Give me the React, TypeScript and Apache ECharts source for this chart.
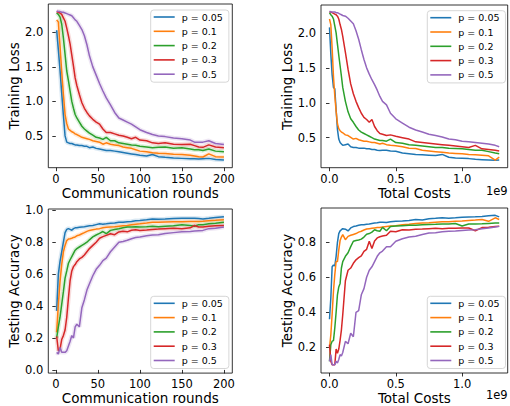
import React, { useEffect, useRef } from "react";
import * as echarts from "echarts";

const NAMES = ["p = 0.05", "p = 0.1", "p = 0.2", "p = 0.3", "p = 0.5"];
const COLORS = ["#1f77b4", "#ff7f0e", "#2ca02c", "#d62728", "#9467bd"];

const ROUNDS = [1, 3, 5, 7, 9, 11, 13, 15, 17, 19, 21, 23, 25, 28, 31, 34, 37, 40, 44, 48, 52, 56, 60, 65, 70, 75, 80, 85, 90, 95, 100, 108, 115, 122, 130, 140, 150, 160, 165, 170, 175, 182, 190, 200];

const LOSS_R_005 = [2.03, 1.75, 1.45, 1.12, 0.8, 0.5, 0.41, 0.4, 0.39, 0.39, 0.38, 0.37, 0.37, 0.36, 0.36, 0.35, 0.35, 0.33, 0.34, 0.32, 0.31, 0.3, 0.29, 0.29, 0.28, 0.27, 0.26, 0.25, 0.24, 0.23, 0.22, 0.21, 0.23, 0.2, 0.19, 0.18, 0.175, 0.17, 0.17, 0.165, 0.17, 0.175, 0.16, 0.15];
const LOSS_R_01 = [2.18, 2.15, 1.8, 1.43, 1.1, 0.81, 0.68, 0.6, 0.58, 0.56, 0.55, 0.53, 0.52, 0.5, 0.48, 0.47, 0.46, 0.45, 0.43, 0.42, 0.41, 0.38, 0.4, 0.38, 0.37, 0.36, 0.34, 0.33, 0.32, 0.3, 0.28, 0.27, 0.255, 0.25, 0.245, 0.235, 0.23, 0.22, 0.21, 0.2, 0.195, 0.24, 0.2, 0.195];
const LOSS_R_02 = [2.28, 2.26, 2.22, 2.12, 1.92, 1.68, 1.44, 1.3, 1.15, 1.0, 0.9, 0.81, 0.76, 0.7, 0.64, 0.6, 0.57, 0.54, 0.51, 0.48, 0.47, 0.45, 0.48, 0.43, 0.43, 0.4, 0.39, 0.38, 0.37, 0.365, 0.35, 0.34, 0.33, 0.335, 0.34, 0.32, 0.33, 0.31, 0.3, 0.3, 0.29, 0.31, 0.28, 0.27];
const LOSS_R_03 = [2.3, 2.29, 2.28, 2.26, 2.21, 2.16, 2.06, 1.95, 1.83, 1.67, 1.51, 1.34, 1.23, 1.1, 0.98, 0.9, 0.84, 0.79, 0.74, 0.7, 0.67, 0.6, 0.55, 0.55, 0.53, 0.51, 0.5, 0.48, 0.46, 0.48, 0.44, 0.43, 0.4, 0.39, 0.4, 0.38, 0.375, 0.38, 0.36, 0.34, 0.335, 0.37, 0.34, 0.33];
const LOSS_R_05 = [2.31, 2.3, 2.3, 2.29, 2.29, 2.28, 2.27, 2.26, 2.25, 2.24, 2.21, 2.18, 2.16, 2.1, 2.04, 1.95, 1.82, 1.66, 1.5, 1.38, 1.26, 1.15, 1.05, 0.95, 0.84, 0.76, 0.73, 0.7, 0.67, 0.63, 0.59, 0.55, 0.52, 0.5, 0.49, 0.47, 0.46, 0.44, 0.41, 0.41, 0.41, 0.43, 0.39, 0.375];

const ACC_R_005 = [0.37, 0.6, 0.68, 0.74, 0.8, 0.86, 0.88, 0.885, 0.88, 0.875, 0.885, 0.89, 0.89, 0.893, 0.895, 0.897, 0.9, 0.903, 0.905, 0.91, 0.915, 0.913, 0.915, 0.918, 0.92, 0.925, 0.925, 0.928, 0.93, 0.935, 0.936, 0.94, 0.946, 0.944, 0.945, 0.948, 0.95, 0.95, 0.95, 0.948, 0.946, 0.95, 0.955, 0.96];
const ACC_R_01 = [0.235, 0.41, 0.555, 0.66, 0.74, 0.78, 0.81, 0.82, 0.822, 0.825, 0.83, 0.833, 0.84, 0.845, 0.853, 0.86, 0.868, 0.874, 0.878, 0.882, 0.885, 0.89, 0.893, 0.895, 0.897, 0.9, 0.903, 0.905, 0.91, 0.913, 0.915, 0.92, 0.925, 0.925, 0.927, 0.928, 0.928, 0.93, 0.93, 0.93, 0.932, 0.935, 0.937, 0.94];
const ACC_R_02 = [0.2, 0.27, 0.33, 0.41, 0.49, 0.575, 0.62, 0.668, 0.69, 0.71, 0.73, 0.75, 0.76, 0.77, 0.78, 0.79, 0.8, 0.815, 0.833, 0.845, 0.855, 0.867, 0.853, 0.874, 0.88, 0.884, 0.89, 0.895, 0.895, 0.897, 0.895, 0.897, 0.9, 0.897, 0.9, 0.903, 0.909, 0.905, 0.9, 0.91, 0.91, 0.915, 0.918, 0.925];
const ACC_R_03 = [0.21, 0.12, 0.13, 0.19, 0.215, 0.25, 0.33, 0.45, 0.56, 0.62, 0.647, 0.66, 0.678, 0.695, 0.705, 0.72, 0.74, 0.76, 0.78, 0.8, 0.825, 0.835, 0.843, 0.853, 0.847, 0.864, 0.868, 0.865, 0.875, 0.878, 0.874, 0.877, 0.88, 0.882, 0.885, 0.888, 0.885, 0.89, 0.905, 0.895, 0.895, 0.9, 0.903, 0.905];
const ACC_R_05 = [0.11, 0.1, 0.14, 0.11, 0.11, 0.11, 0.12, 0.15, 0.18, 0.215, 0.2, 0.27, 0.286, 0.27, 0.39, 0.44, 0.5, 0.54, 0.59, 0.63, 0.655, 0.685, 0.7, 0.74, 0.77, 0.8, 0.805, 0.812, 0.822, 0.83, 0.833, 0.84, 0.845, 0.847, 0.855, 0.86, 0.865, 0.867, 0.87, 0.872, 0.874, 0.885, 0.888, 0.895];

// total costs in units of 1e9
const COSTS = [0, 0.01, 0.02, 0.03, 0.04, 0.05, 0.06, 0.07, 0.08, 0.09, 0.1, 0.12, 0.14, 0.16, 0.18, 0.2, 0.22, 0.24, 0.26, 0.28, 0.3, 0.32, 0.34, 0.36, 0.38, 0.4, 0.43, 0.46, 0.5, 0.55, 0.6, 0.65, 0.7, 0.75, 0.8, 0.85, 0.9, 0.95, 1.0, 1.05, 1.1, 1.15, 1.2, 1.25, 1.28];

const LOSS_C_005 = [2.08, 1.7, 1.4, 1.22, 1.2, 0.9, 0.62, 0.48, 0.43, 0.41, 0.39, 0.4, 0.41, 0.37, 0.36, 0.36, 0.35, 0.35, 0.35, 0.34, 0.34, 0.33, 0.33, 0.32, 0.315, 0.32, 0.32, 0.31, 0.305, 0.28, 0.27, 0.26, 0.255, 0.25, 0.245, 0.26, 0.22, 0.21, 0.205, 0.2, 0.19, 0.185, 0.18, 0.175, 0.18];
const LOSS_C_01 = [2.2, 2.12, 1.78, 1.38, 1.1, 0.88, 0.7, 0.63, 0.6, 0.58, 0.57, 0.54, 0.53, 0.505, 0.48, 0.49, 0.47, 0.46, 0.45, 0.45, 0.44, 0.43, 0.43, 0.42, 0.41, 0.42, 0.4, 0.39, 0.385, 0.37, 0.35, 0.345, 0.32, 0.31, 0.3, 0.29, 0.28, 0.275, 0.27, 0.26, 0.255, 0.25, 0.24, 0.18, 0.22];
const LOSS_C_02 = [2.29, 2.26, 2.24, 2.2, 2.1, 2.0, 1.84, 1.68, 1.53, 1.38, 1.22, 1.02, 0.87, 0.77, 0.72, 0.66, 0.61, 0.58, 0.56, 0.54, 0.52, 0.5, 0.48, 0.47, 0.46, 0.46, 0.45, 0.48, 0.43, 0.42, 0.4, 0.39, 0.38, 0.37, 0.36, 0.36, 0.35, 0.345, 0.34, 0.33, 0.32, 0.32, 0.3, 0.28, 0.27];
const LOSS_C_03 = [2.3, 2.3, 2.29, 2.28, 2.27, 2.26, 2.24, 2.2, 2.12, 2.05, 1.95, 1.72, 1.48, 1.27, 1.13, 1.02, 0.93, 0.85, 0.79, 0.76, 0.72, 0.76, 0.66, 0.6, 0.56, 0.55, 0.53, 0.54, 0.52, 0.5, 0.48, 0.44, 0.43, 0.42, 0.41, 0.4, 0.39, 0.38, 0.37, 0.36, 0.39, 0.34, 0.33, 0.32, 0.31];
const LOSS_C_05 = [2.31, 2.3, 2.3, 2.3, 2.3, 2.29, 2.29, 2.28, 2.27, 2.26, 2.25, 2.24, 2.21, 2.17, 2.13, 2.03, 1.91, 1.76, 1.62, 1.5, 1.41, 1.33, 1.26, 1.18, 1.09, 1.02, 0.97, 0.85, 0.77, 0.71, 0.65, 0.61, 0.58, 0.55, 0.53, 0.51, 0.48, 0.47, 0.45, 0.44, 0.43, 0.42, 0.41, 0.39, 0.37];

const ACC_C_005 = [0.36, 0.48, 0.66, 0.67, 0.665, 0.72, 0.8, 0.85, 0.865, 0.872, 0.878, 0.875, 0.865, 0.882, 0.89, 0.893, 0.897, 0.9, 0.9, 0.903, 0.905, 0.908, 0.91, 0.912, 0.915, 0.915, 0.913, 0.918, 0.92, 0.922, 0.925, 0.93, 0.928, 0.935, 0.937, 0.94, 0.938, 0.94, 0.943, 0.945, 0.946, 0.948, 0.952, 0.954, 0.945];
const ACC_C_01 = [0.196, 0.27, 0.39, 0.52, 0.615, 0.69, 0.69, 0.755, 0.81, 0.83, 0.844, 0.815, 0.834, 0.84, 0.845, 0.85, 0.858, 0.863, 0.87, 0.876, 0.878, 0.88, 0.882, 0.884, 0.885, 0.887, 0.89, 0.893, 0.895, 0.9, 0.903, 0.908, 0.91, 0.912, 0.915, 0.918, 0.918, 0.92, 0.922, 0.925, 0.927, 0.93, 0.92, 0.94, 0.93];
const ACC_C_02 = [0.12, 0.215, 0.235, 0.238, 0.31, 0.4, 0.5, 0.545, 0.565, 0.653, 0.69, 0.72, 0.74, 0.775, 0.806, 0.81, 0.813, 0.818, 0.83, 0.846, 0.85, 0.858, 0.872, 0.866, 0.863, 0.885, 0.866, 0.89, 0.893, 0.895, 0.897, 0.898, 0.9, 0.902, 0.903, 0.905, 0.905, 0.907, 0.893, 0.905, 0.905, 0.906, 0.908, 0.91, 0.91];
const ACC_C_03 = [0.215, 0.12, 0.1, 0.1, 0.1, 0.19, 0.165, 0.19, 0.24, 0.3, 0.386, 0.58, 0.64, 0.653, 0.68, 0.7, 0.712, 0.722, 0.748, 0.76, 0.806, 0.765, 0.808, 0.825, 0.832, 0.836, 0.84, 0.863, 0.86, 0.872, 0.87, 0.875, 0.876, 0.878, 0.88, 0.878, 0.88, 0.88, 0.882, 0.882, 0.866, 0.884, 0.886, 0.89, 0.891];
const ACC_C_05 = [0.12, 0.158, 0.1, 0.1, 0.1, 0.12, 0.11, 0.13, 0.158, 0.15, 0.17, 0.234, 0.22, 0.28, 0.26, 0.4, 0.41, 0.5, 0.535, 0.6, 0.64, 0.66, 0.69, 0.72, 0.74, 0.75, 0.775, 0.775, 0.806, 0.82, 0.83, 0.835, 0.845, 0.853, 0.855, 0.86, 0.863, 0.865, 0.868, 0.87, 0.872, 0.878, 0.882, 0.888, 0.891];

const ROUND_TICKS = [0, 50, 100, 150, 200];
const COST_TICKS = [0, 0.5, 1.0];
const LOSS_TICKS = [0.5, 1.0, 1.5, 2.0];
const ACC_TICKS_L = [0, 0.2, 0.4, 0.6, 0.8, 1.0];
const ACC_TICKS_R = [0.2, 0.4, 0.6, 0.8];

const FONT = "DejaVu Sans";

const PANELS = [
  { grid: { left: 48.3, top: 4, width: 184, height: 163.7 }, xs: ROUNDS, ys: [LOSS_R_005, LOSS_R_01, LOSS_R_02, LOSS_R_03, LOSS_R_05], band: true,
    x: { min: -8.95, max: 209.95, ticks: ROUND_TICKS, name: "Communication rounds", dec: 0 }, y: { min: 0.04, max: 2.41, ticks: LOSS_TICKS, name: "Training Loss" }, legend: { left: 150.7, top: 10 } },
  { grid: { left: 321, top: 5, width: 186.7, height: 162.7 }, xs: COSTS, ys: [LOSS_C_005, LOSS_C_01, LOSS_C_02, LOSS_C_03, LOSS_C_05], band: false,
    x: { min: -0.064, max: 1.344, ticks: COST_TICKS, name: "Total Costs", dec: 1 }, y: { min: 0.07, max: 2.4, ticks: LOSS_TICKS, name: "Training Loss" }, legend: { left: 427.3, top: 10.7 } },
  { grid: { left: 48.3, top: 209, width: 184, height: 166.3 }, xs: ROUNDS, ys: [ACC_R_005, ACC_R_01, ACC_R_02, ACC_R_03, ACC_R_05], band: true,
    x: { min: -8.95, max: 209.95, ticks: ROUND_TICKS, name: "Communication rounds", dec: 0 }, y: { min: -0.02, max: 1.008, ticks: ACC_TICKS_L, name: "Testing Accuracy" }, legend: { left: 150.7, top: 296.3 } },
  { grid: { left: 321, top: 208, width: 186.7, height: 165 }, xs: COSTS, ys: [ACC_C_005, ACC_C_01, ACC_C_02, ACC_C_03, ACC_C_05], band: false,
    x: { min: -0.064, max: 1.344, ticks: COST_TICKS, name: "Total Costs", dec: 1 }, y: { min: 0.053, max: 0.996, ticks: ACC_TICKS_R, name: "Testing Accuracy" }, legend: { left: 427.3, top: 296.3 } },
];

function buildOption() {
  const grid: any[] = [];
  const xAxis: any[] = [];
  const yAxis: any[] = [];
  const legend: any[] = [];
  const series: any[] = [];
  const tick = { show: true, length: 3.5, inside: false, lineStyle: { color: "#000", width: 0.8 } };
  PANELS.forEach((p, gi) => {
    grid.push({ ...p.grid, show: true, borderColor: "#000", borderWidth: 0.8, containLabel: false });
    xAxis.push({
      type: "value", gridIndex: gi, min: p.x.min, max: p.x.max,
      axisLine: { show: false }, splitLine: { show: false },
      axisTick: { ...tick, customValues: p.x.ticks },
      axisLabel: { customValues: p.x.ticks, formatter: (v: number) => v.toFixed(p.x.dec), fontSize: 11.5, fontFamily: FONT, color: "#000", margin: 5 },
      name: p.x.name, nameLocation: "middle", nameGap: 16,
      nameTextStyle: { fontSize: 13.5, fontFamily: FONT, color: "#000", verticalAlign: "top" },
    });
    yAxis.push({
      type: "value", gridIndex: gi, min: p.y.min, max: p.y.max,
      axisLine: { show: false }, splitLine: { show: false },
      axisTick: { ...tick, customValues: p.y.ticks },
      axisLabel: { customValues: p.y.ticks, formatter: (v: number) => v.toFixed(1), fontSize: 11.5, fontFamily: FONT, color: "#000", margin: 5 },
      name: p.y.name, nameLocation: "middle", nameGap: 27,
      nameTextStyle: { fontSize: 13.5, fontFamily: FONT, color: "#000" },
    });
    legend.push({
      orient: "vertical", left: p.legend.left, top: p.legend.top,
      data: NAMES.map((n) => ({ name: n, icon: "rect" })),
      itemWidth: 21, itemHeight: 1.6, itemGap: 4.3,
      padding: [2, 6, 3, 3],
      borderColor: "#cccccc", borderWidth: 0.8, borderRadius: 3, backgroundColor: "rgba(255,255,255,0.8)",
      textStyle: { fontSize: 9.5, fontFamily: FONT, color: "#000", lineHeight: 10, padding: [0, 0, 0, 2] },
      selectedMode: false,
    });
    if (p.band) {
      p.ys.forEach((ys, si) => {
        series.push({
          type: "line", name: "band" + gi + "_" + si, xAxisIndex: gi, yAxisIndex: gi,
          data: p.xs.map((x, i) => [x, ys[i]]), symbol: "none", silent: true,
          lineStyle: { color: COLORS[si], width: 4.5, opacity: 0.16 }, z: 1,
        });
      });
    }
    p.ys.forEach((ys, si) => {
      series.push({
        type: "line", name: NAMES[si], xAxisIndex: gi, yAxisIndex: gi,
        data: p.xs.map((x, i) => [x, ys[i]]), symbol: "none",
        color: COLORS[si], itemStyle: { color: COLORS[si] }, lineStyle: { color: COLORS[si], width: 1.5 }, z: 2,
      });
    });
  });
  return {
    animation: false,
    backgroundColor: "#fff",
    textStyle: { fontFamily: FONT },
    grid, xAxis, yAxis, legend, series,
    graphic: [
      { type: "text", x: 507.7, y: 190.7, style: { text: "1e9", fontSize: 11.5, fontFamily: FONT, fill: "#000", align: "right", verticalAlign: "middle" } },
      { type: "text", x: 507.7, y: 394.7, style: { text: "1e9", fontSize: 11.5, fontFamily: FONT, fill: "#000", align: "right", verticalAlign: "middle" } },
    ],
  };
}

export default function App() {
  const ref = useRef<HTMLDivElement>(null);
  useEffect(() => {
    document.body.style.margin = "0";
    const chart = echarts.init(ref.current!, undefined, { renderer: "svg" });
    chart.setOption(buildOption() as any);
    return () => chart.dispose();
  }, []);
  return <div ref={ref} style={{ width: 510, height: 406 }} />;
}
